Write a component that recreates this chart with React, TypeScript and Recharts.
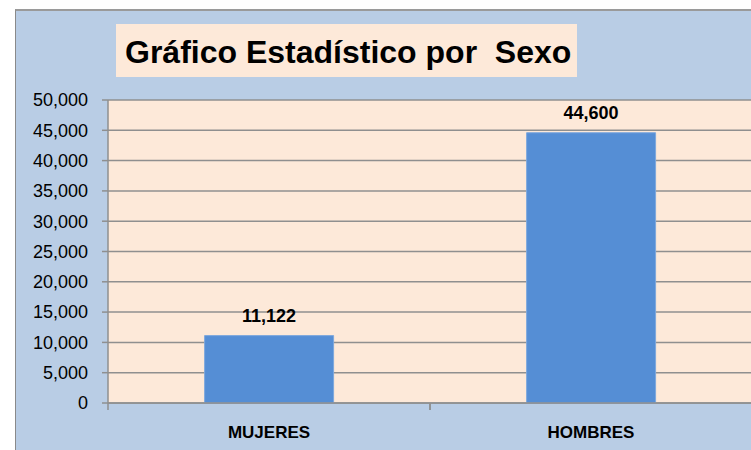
import React from "react";
import { BarChart, Bar, XAxis, YAxis, CartesianGrid, LabelList } from "recharts";

const categories = ["MUJERES", "HOMBRES"];
const values = [11122, 44600];
const yTicks = [0, 5000, 10000, 15000, 20000, 25000, 30000, 35000, 40000, 45000, 50000];
const title = "Gráfico Estadístico por  Sexo";

const data = categories.map((c, i) => ({ name: c, value: values[i] }));
const fmt = (v: number) => v.toLocaleString("en-US");
const FONT = "'Liberation Sans', Arial, sans-serif";
const AXIS = "#8f8f8f";

const CatTick = (props: any) => {
  const { x, y, payload } = props;
  const half = payload && typeof payload.offset === "number" ? payload.offset : 0;
  const axisY = y;
  return (
    <g>
      {half > 0 && (
        <>
          <line x1={x - half} x2={x - half} y1={axisY} y2={axisY + 7} stroke={AXIS} strokeWidth={1.5} />
          <line x1={x + half} x2={x + half} y1={axisY} y2={axisY + 7} stroke={AXIS} strokeWidth={1.5} />
        </>
      )}
      <text
        x={x}
        y={axisY + 35}
        textAnchor="middle"
        fill="#000"
        fontSize={17}
        fontWeight="bold"
        fontFamily={FONT}
      >
        {payload.value}
      </text>
    </g>
  );
};

export default function App() {
  return (
    <div
      style={{
        position: "absolute",
        left: 0,
        top: 0,
        width: 751,
        height: 450,
        overflow: "hidden",
        background: "#ffffff",
        fontFamily: FONT,
      }}
    >
      <div
        style={{
          position: "absolute",
          left: 15,
          top: 9,
          width: 800,
          height: 500,
          background: "#b9cde5",
          borderLeft: "1px solid #8a8a8a",
          borderTop: "2px solid #9a9a9a",
        }}
      />
      <div
        style={{
          position: "absolute",
          left: 116,
          top: 24,
          width: 461,
          height: 53,
          background: "#fde9d9",
        }}
      />
      <div
        style={{
          position: "absolute",
          left: 125,
          top: 32,
          fontSize: 32,
          fontWeight: "bold",
          whiteSpace: "pre",
          color: "#000",
          lineHeight: "40px",
        }}
      >
        {title}
      </div>
      <div style={{ position: "absolute", left: 0, top: 0 }}>
        <BarChart
          width={800}
          height={450}
          data={data}
          margin={{ top: 100, right: 48, left: 0, bottom: 0 }}
          barCategoryGap="30%"
        >
          <CartesianGrid
            vertical={false}
            fill="#fde9d9"
            stroke={AXIS}
            strokeWidth={1.5}
            fillOpacity={1}
          />
          <XAxis
            dataKey="name"
            height={47}
            tickSize={0}
            tickMargin={0}
            tickLine={false}
            axisLine={{ stroke: AXIS, strokeWidth: 1.5 }}
            tick={<CatTick />}
            interval={0}
          />
          <YAxis
            width={108}
            domain={[0, 50000]}
            ticks={yTicks}
            tickFormatter={fmt}
            tickSize={6}
            tickMargin={14}
            axisLine={{ stroke: AXIS, strokeWidth: 1.5 }}
            tickLine={{ stroke: AXIS, strokeWidth: 1.5 }}
            tick={{ fill: "#000", fontSize: 18, fontFamily: FONT }}
            interval={0}
          />
          <Bar dataKey="value" fill="#558ed5" stroke="#7ea8dd" strokeWidth={1} isAnimationActive={false}>
            <LabelList
              dataKey="value"
              position="top"
              offset={14}
              formatter={(v: any) => fmt(Number(v))}
              style={{ fill: "#000", fontSize: 18, fontWeight: "bold", fontFamily: FONT }}
            />
          </Bar>
        </BarChart>
      </div>
    </div>
  );
}
